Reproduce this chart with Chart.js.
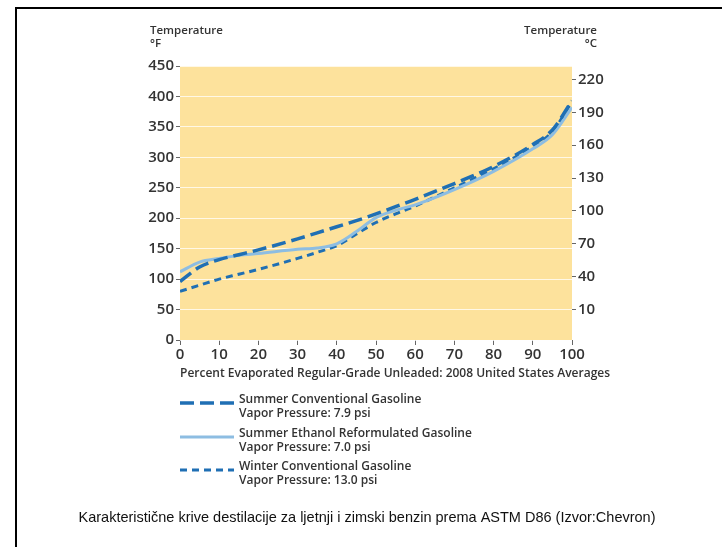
<!DOCTYPE html>
<html>
<head>
<meta charset="utf-8">
<script src="https://cdn.jsdelivr.net/npm/chart.js@4.4.0/dist/chart.umd.min.js"></script>
<style>
  body { margin: 0; background: #fff; }
  #frame { position: absolute; left: 15px; top: 7px; width: 705px; height: 560px;
           border-top: 2px solid #000; border-left: 2px solid #000; }
  #wrap { position: absolute; left: 0; top: 0; width: 724px; height: 547px; }
</style>
</head>
<body>
<div id="frame"></div>
<div id="wrap"><canvas id="main-chart" width="724" height="547"></canvas></div>
<script>
// percent evaporated
const pct = [0, 5, 10, 15, 20, 30, 35, 40, 45, 50, 55, 60, 70, 80, 90, 95, 100]
// temperatures in °F
const summerConv = [96, 120, 132, 140, 148, 166, 176, 186, 196, 207, 219, 231, 257, 285, 321, 345, 393]
const summerEthanol = [112, 128, 134, 139, 142, 149, 151, 158, 178, 201, 213, 222, 247, 277, 314, 337, 382]
const winterConv = [80, 90, 100, 108, 116, 134, 144, 155, 174, 193, 207, 220, 250, 281, 318, 342, 392]

const seriesNames = ['Summer Conventional Gasoline', 'Summer Ethanol Reformulated Gasoline', 'Winter Conventional Gasoline']
const vaporLabels = ['Vapor Pressure: 7.9 psi', 'Vapor Pressure: 7.0 psi', 'Vapor Pressure: 13.0 psi']
const celsiusTicks = [10, 40, 70, 100, 130, 160, 190, 220]
const xTitle = 'Percent Evaporated Regular-Grade Unleaded: 2008 United States Averages'
const caption = 'Karakteristične krive destilacije za ljetnji i zimski benzin prema ASTM D86 (Izvor:Chevron)'

const darkBlue = '#1f6fb4'
const lightBlue = '#8dbde2'
const textColor = '#333'
const font = "'Open Sans', sans-serif"

Chart.defaults.font.family = font
Chart.defaults.font.size = 15
Chart.defaults.font.weight = '600'
Chart.defaults.color = textColor

let toPoints = function(vals) {
  return pct.map((p, i) => ({ x: p, y: vals[i] }))
}

// yellow plot background
const bgPlugin = {
  id: 'bgPlugin',
  beforeDraw(chart) {
    let ctx = chart.ctx
    let a = chart.chartArea
    ctx.save()
    ctx.fillStyle = '#fde29c'
    ctx.fillRect(a.left, a.top, a.right - a.left, a.bottom - a.top)
    ctx.restore()
  }
}

// axis unit titles, x title, legend block and caption
const extrasPlugin = {
  id: 'extrasPlugin',
  afterDraw(chart) {
    let ctx = chart.ctx
    let a = chart.chartArea
    ctx.save()
    ctx.fillStyle = textColor
    ctx.textBaseline = 'middle'
    ctx.font = '600 11.5px ' + font
    ctx.textAlign = 'left'
    ctx.fillText('Temperature', 150, 31)
    ctx.fillText('°F', 150, 44)
    ctx.textAlign = 'right'
    ctx.fillText('Temperature', 597, 31)
    ctx.fillText('°C', 597, 44)

    ctx.textAlign = 'left'
    ctx.font = '600 12px ' + font
    ctx.fillText(xTitle, a.left, 374)

    // legend
    let rowY = [403, 437, 470]
    chart.data.datasets.forEach((ds, i) => {
      let y = rowY[i]
      ctx.save()
      ctx.strokeStyle = ds.borderColor
      ctx.lineWidth = ds.borderWidth
      ctx.setLineDash(ds.borderDash || [])
      ctx.beginPath()
      ctx.moveTo(180, y)
      ctx.lineTo(234, y)
      ctx.stroke()
      ctx.restore()
      ctx.textAlign = 'left'
      ctx.font = '600 12px ' + font
      ctx.fillStyle = textColor
      ctx.fillText(seriesNames[i], 239, y - 3)
      ctx.fillText(vaporLabels[i], 239, y + 11)
    })

    // caption
    ctx.font = "14.5px 'Liberation Sans', sans-serif"
    ctx.fillStyle = '#111'
    ctx.textAlign = 'center'
    ctx.fillText(caption, 367, 518)
    ctx.restore()
  }
}

const fToC = f => (f - 32) * 5 / 9

let source = document.getElementById('main-chart')
let repChart = new Chart(source, {
  type: 'line',
  data: {
    datasets: [{
      label: seriesNames[0],
      data: toPoints(summerConv),
      borderColor: darkBlue,
      borderWidth: 3.5,
      borderDash: [14, 6],
      pointRadius: 0,
      cubicInterpolationMode: 'monotone',
      yAxisID: 'y'
    }, {
      label: seriesNames[1],
      data: toPoints(summerEthanol),
      borderColor: lightBlue,
      borderWidth: 3,
      pointRadius: 0,
      cubicInterpolationMode: 'monotone',
      yAxisID: 'y'
    }, {
      label: seriesNames[2],
      data: toPoints(winterConv),
      borderColor: darkBlue,
      borderWidth: 3,
      borderDash: [7, 5],
      pointRadius: 0,
      cubicInterpolationMode: 'monotone',
      yAxisID: 'y'
    }]
  },
  options: {
    responsive: false,
    animation: false,
    devicePixelRatio: 1,
    layout: { padding: { left: 136, right: 112, top: 66, bottom: 180 } },
    plugins: {
      legend: { display: false },
      tooltip: { enabled: false }
    },
    scales: {
      x: {
        type: 'linear',
        min: 0,
        max: 100,
        ticks: { stepSize: 10, padding: 1, maxRotation: 0 },
        grid: { drawOnChartArea: false, tickLength: 5, tickColor: '#666', tickWidth: 1 },
        border: { display: false },
        afterFit(scale) { scale.height = 27 }
      },
      y: {
        position: 'left',
        min: 0,
        max: 450,
        ticks: { stepSize: 50, padding: 2 },
        grid: { color: 'rgba(255,255,255,0.75)', lineWidth: 1, tickLength: 4, tickColor: '#666' },
        border: { display: false },
        afterFit(scale) { scale.width = 44 }
      },
      y2: {
        position: 'right',
        min: fToC(0),
        max: fToC(450),
        afterBuildTicks(scale) { scale.ticks = celsiusTicks.map(v => ({ value: v })) },
        ticks: { padding: 2 },
        grid: { drawOnChartArea: false, tickLength: 4, tickColor: '#666' },
        border: { display: false },
        afterFit(scale) { scale.width = 40 }
      }
    }
  },
  plugins: [bgPlugin, extrasPlugin]
})
</script>
</body>
</html>
